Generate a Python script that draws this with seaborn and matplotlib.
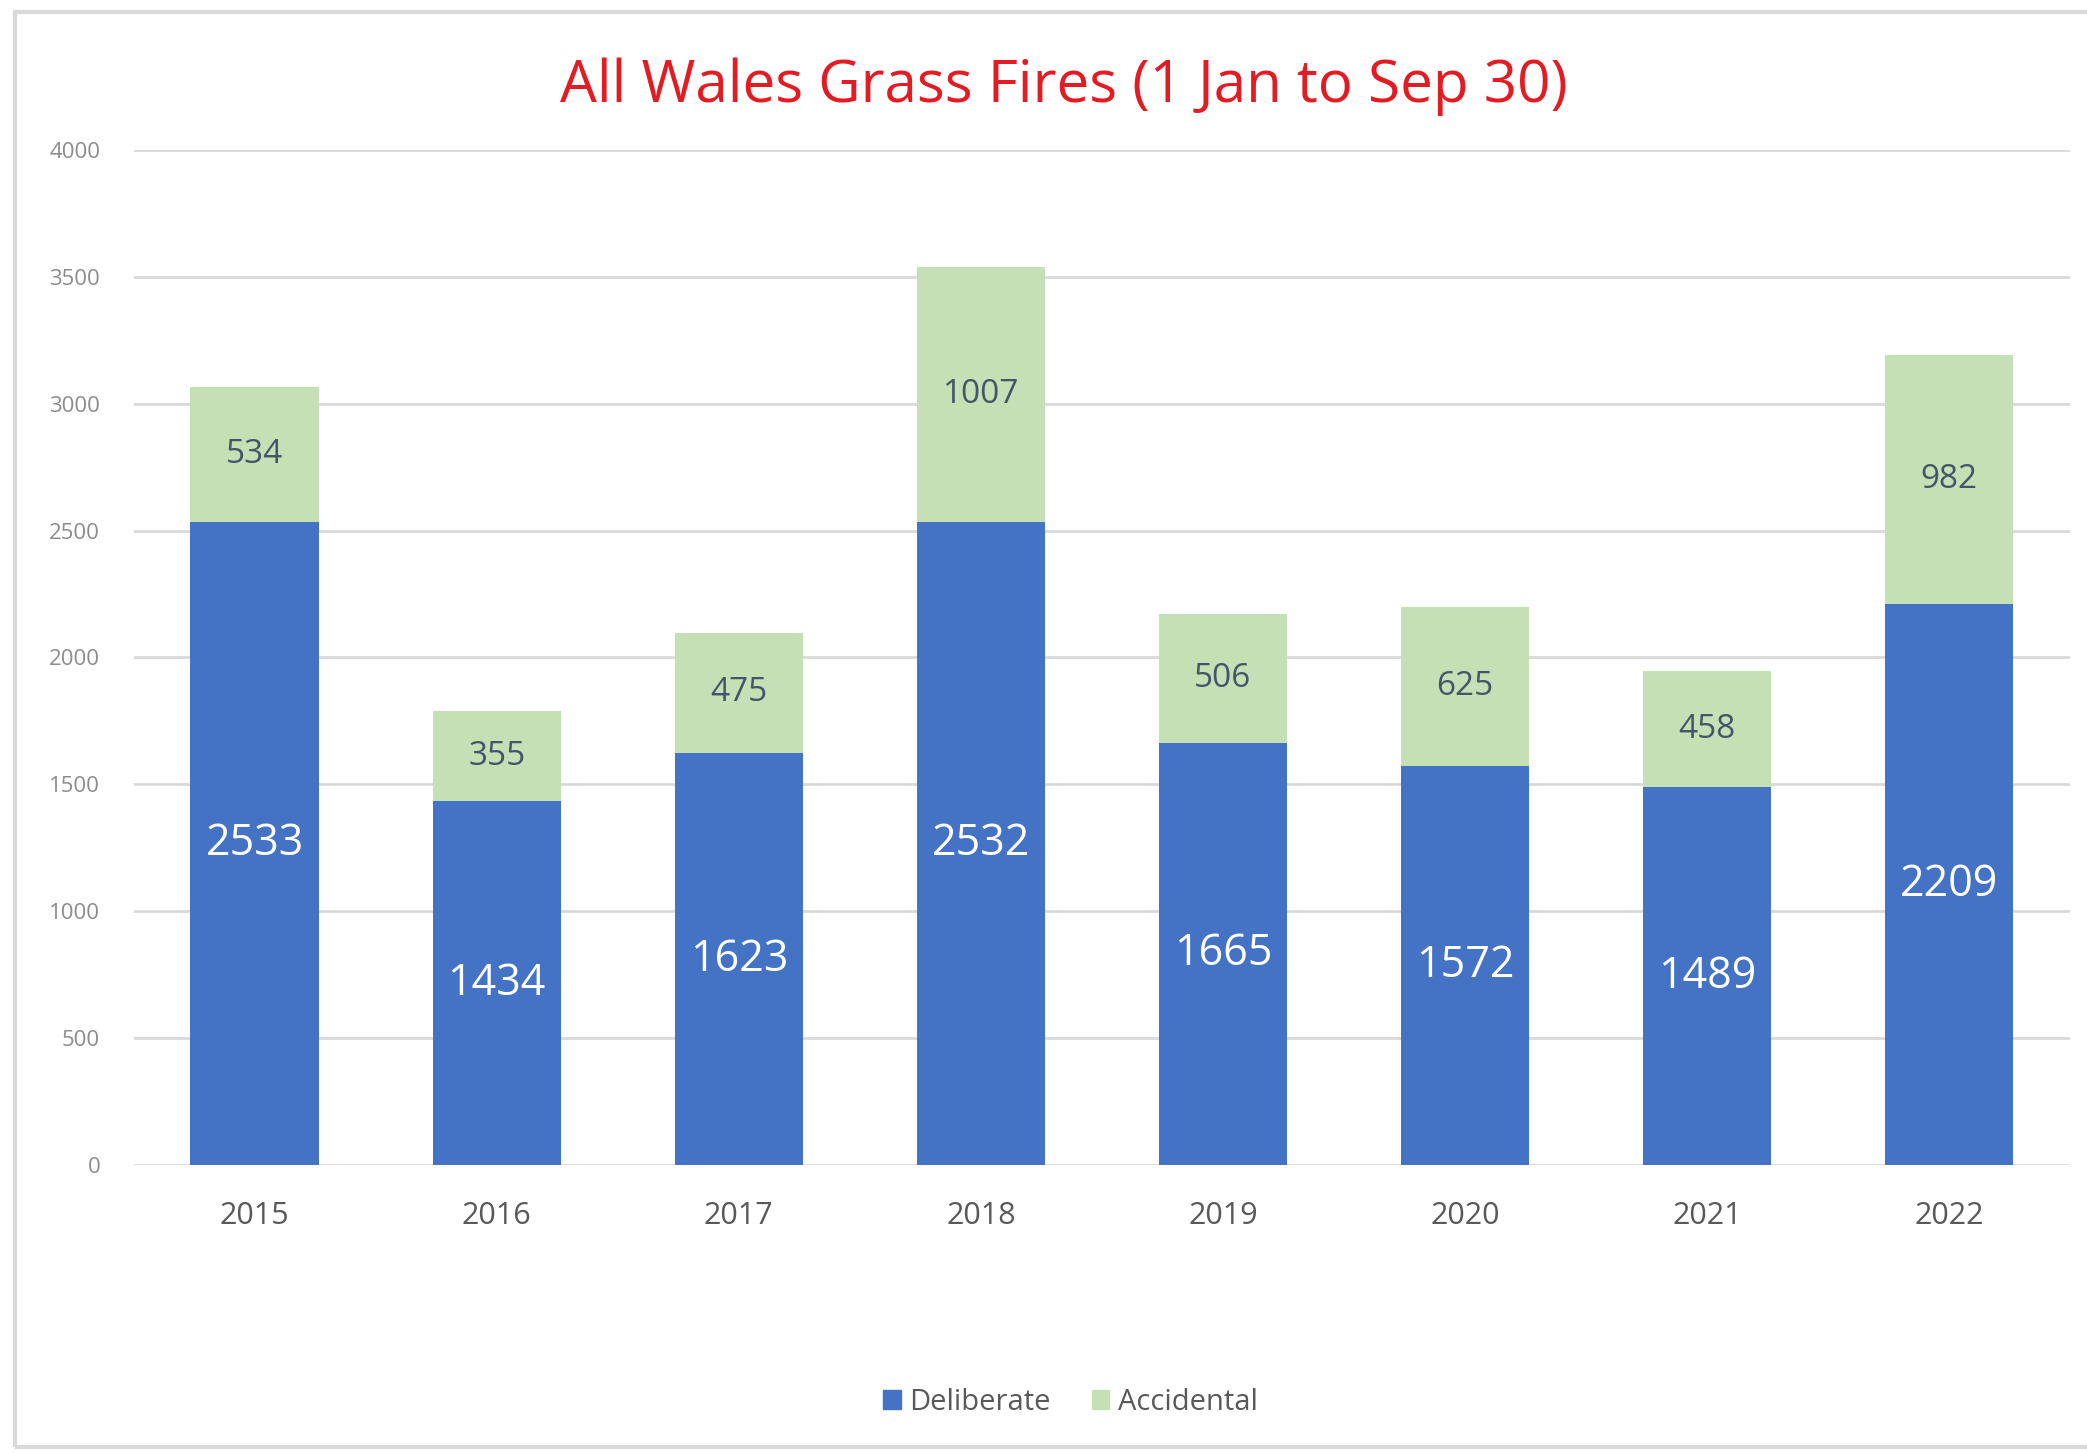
import pandas as pd
import seaborn as sns
import matplotlib.pyplot as plt
from matplotlib.patches import Rectangle, Patch

years = ['2015', '2016', '2017', '2018', '2019', '2020', '2021', '2022']
deliberate = [2533, 1434, 1623, 2532, 1665, 1572, 1489, 2209]
accidental = [534, 355, 475, 1007, 506, 625, 458, 982]
yticks = [0, 500, 1000, 1500, 2000, 2500, 3000, 3500, 4000]

blue = '#4472C4'
green = '#C5E0B4'

sns.set_theme(style='white')
plt.rcParams['font.family'] = ['Open Sans', 'DejaVu Sans']

data = pd.DataFrame({'year': years,
                     'deliberate': deliberate,
                     'accidental': accidental})
data['total'] = data['deliberate'] + data['accidental']

fig = plt.figure(figsize=(20.87, 14.53), dpi=100)
ax = fig.add_axes([0.064, 0.198, 0.928, 0.699])

sns.barplot(data=data, x='year', y='total', color=green, width=0.53,
            saturation=1, edgecolor='none', ax=ax)
sns.barplot(data=data, x='year', y='deliberate', color=blue, width=0.53,
            saturation=1, edgecolor='none', ax=ax)

# labels
ax.bar_label(ax.containers[1], labels=[str(v) for v in deliberate],
             label_type='center', color='white', fontsize=31)
for i in range(len(years)):
    ax.text(i, deliberate[i] + accidental[i] / 2, str(accidental[i]),
            ha='center', va='center', color='#44546A', fontsize=24)

ax.set_ylim(0, 4000)
ax.set_xlim(-0.5, 7.5)
ax.set_yticks(yticks)
ax.set_yticklabels([str(v) for v in yticks])
ax.yaxis.grid(True, color='#D9D9D9', linewidth=2)
ax.set_axisbelow(True)
for s in ax.spines.values():
    s.set_visible(False)
ax.tick_params(axis='x', length=0, pad=26, labelsize=22, labelcolor='#595959')
ax.tick_params(axis='y', length=0, pad=24, labelsize=16, labelcolor='#8C8C8C')
ax.set_xlabel('')
ax.set_ylabel('')

fig.text(0.510, 0.940, 'All Wales Grass Fires (1 Jan to Sep 30)', ha='center',
         va='center', color='#E31B23', fontsize=42)

handles = [Patch(color=blue, label='Deliberate'), Patch(color=green, label='Accidental')]
fig.legend(handles=handles, loc='center', bbox_to_anchor=(0.513, 0.035), ncol=2,
           frameon=False, fontsize=21, labelcolor='#595959', handlelength=0.6,
           handleheight=0.6, handletextpad=0.3, columnspacing=1.4)

# chart area frame
fig.patches.append(Rectangle((0.007, 0.004), 1.2, 0.988, transform=fig.transFigure,
                             fill=False, edgecolor='#D9D9D9', linewidth=3))

fig.savefig('out.png', dpi=100)
